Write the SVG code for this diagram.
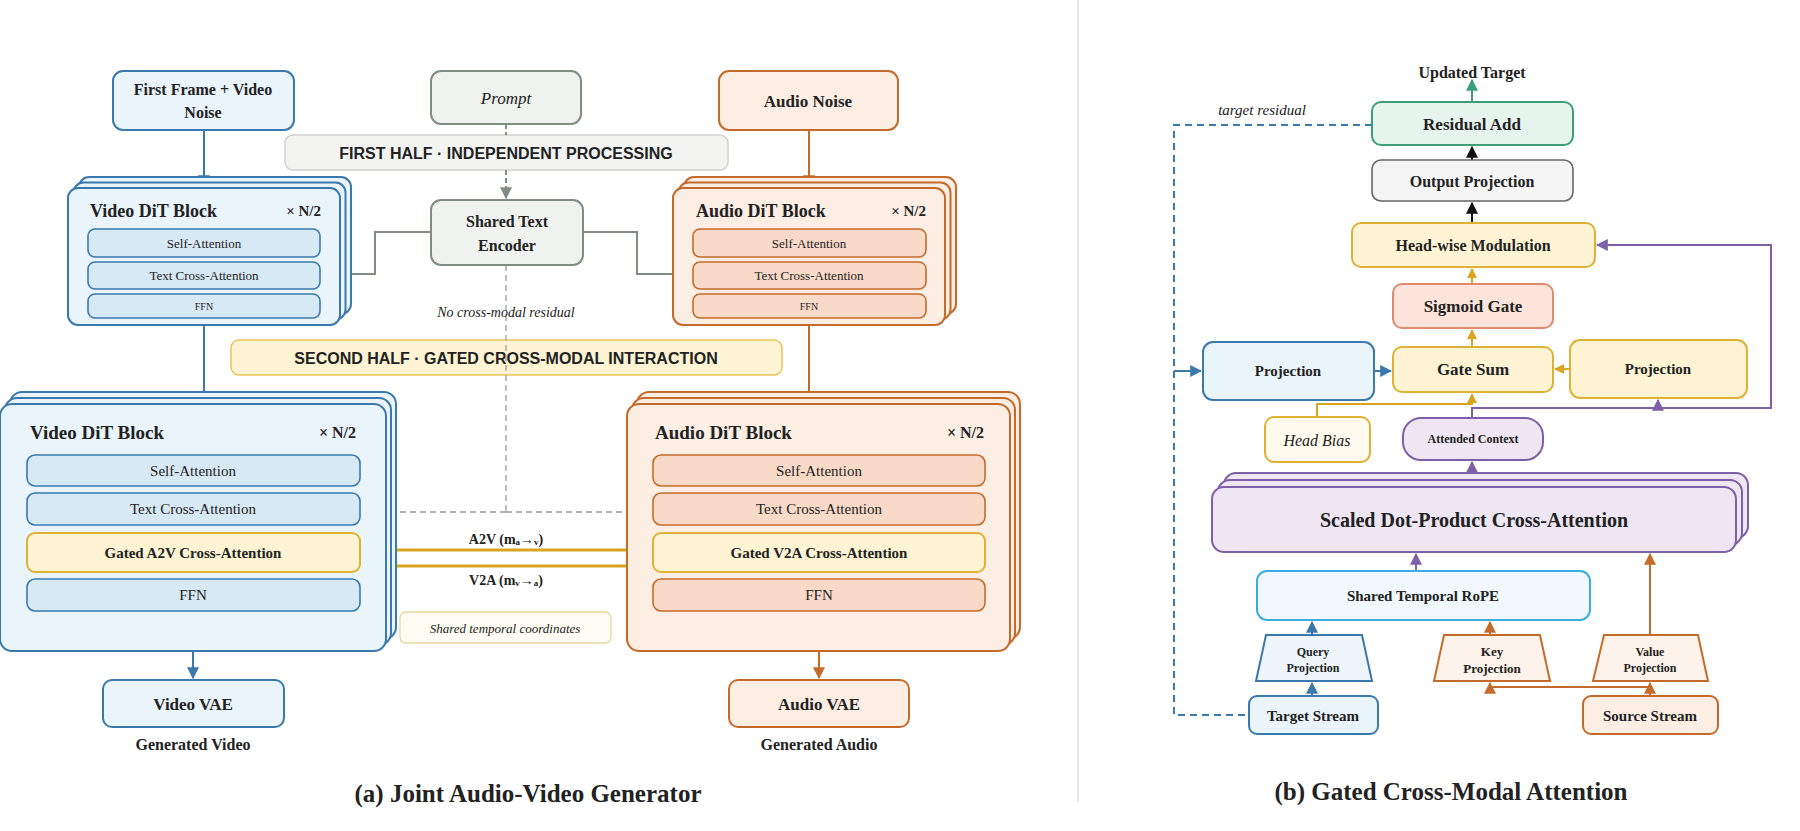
<svg xmlns="http://www.w3.org/2000/svg" width="1800" height="831" viewBox="0 0 1800 831">
<style>
text{font-family:"Liberation Serif","Times New Roman",serif;fill:#222;text-anchor:middle;dominant-baseline:central}
.b{font-weight:bold}
.i{font-style:italic}
.sans{font-family:"Liberation Sans",Arial,sans-serif;font-weight:bold}
.vb{fill:#eaf4fb;stroke:#3b78ae;stroke-width:2}
.vs{fill:#d8e9f6;stroke:#3b78ae;stroke-width:1.6}
.ab{fill:#fdeee4;stroke:#c46b2c;stroke-width:2}
.as{fill:#f9dac8;stroke:#c46b2c;stroke-width:1.6}
.gb{fill:#eff2ee;stroke:#7f8e80;stroke-width:2}
.yb{fill:#fef4d4;stroke:#dfb134;stroke-width:2}
.pb{fill:#efe6f4;stroke:#7d60a8;stroke-width:2}
.none{fill:none}
</style>
<defs>
<marker id="mb" viewBox="0 0 10 10" refX="9" refY="5" markerWidth="6" markerHeight="6" orient="auto-start-reverse"><path d="M0,0L10,5L0,10z" fill="#3b78ae"/></marker>
<marker id="mo" viewBox="0 0 10 10" refX="9" refY="5" markerWidth="6" markerHeight="6" orient="auto-start-reverse"><path d="M0,0L10,5L0,10z" fill="#c46b2c"/></marker>
<marker id="mg" viewBox="0 0 10 10" refX="9" refY="5" markerWidth="6" markerHeight="6" orient="auto-start-reverse"><path d="M0,0L10,5L0,10z" fill="#7f8e80"/></marker>
<marker id="ml" viewBox="0 0 10 10" refX="9" refY="5" markerWidth="6" markerHeight="6" orient="auto-start-reverse"><path d="M0,0L10,5L0,10z" fill="#999"/></marker>
<marker id="my" viewBox="0 0 10 10" refX="9" refY="5" markerWidth="5" markerHeight="5" orient="auto-start-reverse"><path d="M0,0L10,5L0,10z" fill="#d9a520"/></marker>
<marker id="mp" viewBox="0 0 10 10" refX="9" refY="5" markerWidth="6" markerHeight="6" orient="auto-start-reverse"><path d="M0,0L10,5L0,10z" fill="#7d60a8"/></marker>
<marker id="mk" viewBox="0 0 10 10" refX="9" refY="5" markerWidth="6" markerHeight="6" orient="auto-start-reverse"><path d="M0,0L10,5L0,10z" fill="#111"/></marker>
<marker id="mt" viewBox="0 0 10 10" refX="9" refY="5" markerWidth="6" markerHeight="6" orient="auto-start-reverse"><path d="M0,0L10,5L0,10z" fill="#3d9e7a"/></marker>
</defs>

<line x1="1078" y1="0" x2="1078" y2="802" stroke="#ddd" stroke-width="1.5"/>

<g id="bars">
<rect x="285" y="135" width="443" height="35" rx="8" fill="#f3f4f2" stroke="#cfd2cf" stroke-width="1.5"/>
<text x="506" y="153" class="sans" font-size="16" fill="#555">FIRST HALF · INDEPENDENT PROCESSING</text>
<rect x="231" y="340" width="551" height="35" rx="8" fill="#fef4d4" stroke="#e8c55a" stroke-width="1.5"/>
<text x="506" y="358" class="sans" font-size="16" fill="#7a5f10">SECOND HALF · GATED CROSS-MODAL INTERACTION</text>
</g>

<g id="connectors" fill="none" stroke-width="2">
<path d="M204 130V186" stroke="#3b78ae" marker-end="url(#mb)"/>
<path d="M204 325V402" stroke="#3b78ae" marker-end="url(#mb)"/>
<path d="M193 651V678" stroke="#3b78ae" marker-end="url(#mb)"/>
<path d="M809 130V186" stroke="#c46b2c" marker-end="url(#mo)"/>
<path d="M809 325V402" stroke="#c46b2c" marker-end="url(#mo)"/>
<path d="M819 651V678" stroke="#c46b2c" marker-end="url(#mo)"/>
<path d="M506 124V135M506 170V198" stroke="#7f8e80" stroke-dasharray="5 3" marker-end="url(#mg)"/>
<path d="M431 232H375V274H322" stroke="#7f8e80" marker-end="url(#mg)"/>
<path d="M583 232H637V274H695" stroke="#7f8e80" marker-end="url(#mg)"/>
<path d="M506 265V512" stroke="#aaa" stroke-width="1.5" stroke-dasharray="6 4"/>
<path d="M506 512H362M506 512H652" stroke="#999" stroke-width="1.5" stroke-dasharray="6 4" marker-end="url(#ml)"/>
<path d="M627 550H362" stroke="#d9a520" stroke-width="3" marker-end="url(#my)"/>
<path d="M386 566H652" stroke="#d9a520" stroke-width="3" marker-end="url(#my)"/>
<!-- right -->
<path d="M1472 102V80" stroke="#3d9e7a" marker-end="url(#mt)"/>
<path d="M1472 160V147" stroke="#111" marker-end="url(#mk)"/>
<path d="M1472 223V203" stroke="#111" marker-end="url(#mk)"/>
<path d="M1472 284V269" stroke="#d9a520" marker-end="url(#my)"/>
<path d="M1472 347V330" stroke="#d9a520" marker-end="url(#my)"/>
<path d="M1374 371H1391" stroke="#3b78ae" marker-end="url(#mb)"/>
<path d="M1570 369H1555" stroke="#d9a520" marker-end="url(#my)"/>
<path d="M1317 417V404H1472V394" stroke="#d9a520" marker-end="url(#my)"/>
<path d="M1472 418V408H1771V245H1597" stroke="#7d60a8" marker-end="url(#mp)"/>
<path d="M1658 408V400" stroke="#7d60a8" marker-end="url(#mp)"/>
<path d="M1472 487V462" stroke="#7d60a8" marker-end="url(#mp)"/>
<path d="M1416 571V554" stroke="#7d60a8" marker-end="url(#mp)"/>
<path d="M1312 696V683" stroke="#3b78ae" marker-end="url(#mb)"/>
<path d="M1312 635V622" stroke="#3b78ae" marker-end="url(#mb)"/>
<path d="M1490 635V622" stroke="#c46b2c" marker-end="url(#mo)"/>
<path d="M1650 635V554" stroke="#c46b2c" marker-end="url(#mo)"/>
<path d="M1650 696V683" stroke="#c46b2c" marker-end="url(#mo)"/>
<path d="M1650 687H1490V683" stroke="#c46b2c" marker-end="url(#mo)"/>
<path d="M1372 125H1174V715H1247" stroke="#3b78ae" stroke-dasharray="7 5"/>
<path d="M1174 371H1201" stroke="#3b78ae" marker-end="url(#mb)"/>
</g>

<g id="first-frame"><rect x="113" y="71" width="181" height="59" rx="10" class="vb"/>
<text x="203" y="89" class="b" font-size="16">First Frame + Video</text><text x="203" y="112" class="b" font-size="16">Noise</text></g>
<g id="prompt"><rect x="431" y="71" width="150" height="53" rx="10" class="gb"/><text x="506" y="98" class="i" font-size="17">Prompt</text></g>
<g id="audio-noise"><rect x="719" y="71" width="179" height="59" rx="10" class="ab"/><text x="808" y="101" class="b" font-size="17">Audio Noise</text></g>
<g id="text-encoder"><rect x="431" y="200" width="152" height="65" rx="10" class="gb"/>
<text x="507" y="221" class="b" font-size="16">Shared Text</text><text x="507" y="245" class="b" font-size="16">Encoder</text></g>
<text x="506" y="312" class="i" font-size="14" fill="#999">No cross-modal residual</text>

<g id="video-dit-1">
<rect x="79" y="177" width="272" height="137" rx="10" class="vb"/>
<rect x="73.5" y="182.5" width="272" height="137" rx="10" class="vb"/>
<rect x="68" y="188" width="272" height="137" rx="10" class="vb"/>
<text x="90" y="211" class="b" font-size="18" style="text-anchor:start">Video DiT Block</text>
<text x="321" y="211" class="b" font-size="15" style="text-anchor:end">× N/2</text>
<rect x="88" y="229" width="232" height="28" rx="7" class="vs"/><text x="204" y="243" font-size="13">Self-Attention</text>
<rect x="88" y="262" width="232" height="27" rx="7" class="vs"/><text x="204" y="275" font-size="13">Text Cross-Attention</text>
<rect x="88" y="294" width="232" height="24" rx="7" class="vs"/><text x="204" y="306" font-size="10">FFN</text>
</g>
<g id="audio-dit-1">
<rect x="684" y="177" width="272" height="137" rx="10" class="ab"/>
<rect x="678.5" y="182.5" width="272" height="137" rx="10" class="ab"/>
<rect x="673" y="188" width="272" height="137" rx="10" class="ab"/>
<text x="696" y="211" class="b" font-size="18" style="text-anchor:start">Audio DiT Block</text>
<text x="926" y="211" class="b" font-size="15" style="text-anchor:end">× N/2</text>
<rect x="693" y="229" width="233" height="28" rx="7" class="as"/><text x="809" y="243" font-size="13">Self-Attention</text>
<rect x="693" y="262" width="233" height="27" rx="7" class="as"/><text x="809" y="275" font-size="13">Text Cross-Attention</text>
<rect x="693" y="294" width="233" height="24" rx="7" class="as"/><text x="809" y="306" font-size="10">FFN</text>
</g>

<g id="video-dit-2">
<rect x="10" y="392" width="386" height="247" rx="12" class="vb"/>
<rect x="5" y="398" width="386" height="247" rx="12" class="vb"/>
<rect x="0" y="404" width="386" height="247" rx="12" class="vb"/>
<text x="30" y="432" class="b" font-size="19" style="text-anchor:start">Video DiT Block</text>
<text x="356" y="432" class="b" font-size="16" style="text-anchor:end">× N/2</text>
<rect x="27" y="455" width="333" height="31" rx="8" class="vs"/><text x="193" y="471" font-size="15">Self-Attention</text>
<rect x="27" y="493" width="333" height="32" rx="8" class="vs"/><text x="193" y="509" font-size="15">Text Cross-Attention</text>
<rect x="27" y="533" width="333" height="39" rx="8" class="yb"/><text x="193" y="553" class="b" font-size="15">Gated A2V Cross-Attention</text>
<rect x="27" y="579" width="333" height="32" rx="8" class="vs"/><text x="193" y="595" font-size="15">FFN</text>
</g>
<g id="audio-dit-2">
<rect x="637" y="392" width="383" height="247" rx="12" class="ab"/>
<rect x="632" y="398" width="383" height="247" rx="12" class="ab"/>
<rect x="627" y="404" width="383" height="247" rx="12" class="ab"/>
<text x="655" y="432" class="b" font-size="19" style="text-anchor:start">Audio DiT Block</text>
<text x="984" y="432" class="b" font-size="16" style="text-anchor:end">× N/2</text>
<rect x="653" y="455" width="332" height="31" rx="8" class="as"/><text x="819" y="471" font-size="15">Self-Attention</text>
<rect x="653" y="493" width="332" height="32" rx="8" class="as"/><text x="819" y="509" font-size="15">Text Cross-Attention</text>
<rect x="653" y="533" width="332" height="39" rx="8" class="yb"/><text x="819" y="553" class="b" font-size="15">Gated V2A Cross-Attention</text>
<rect x="653" y="579" width="332" height="32" rx="8" class="as"/><text x="819" y="595" font-size="15">FFN</text>
</g>
<text x="506" y="539" class="b" font-size="14" fill="#7a5f10">A2V  (m<tspan font-size="9" dy="3">a</tspan><tspan dy="-3">→</tspan><tspan font-size="9" dy="3">v</tspan><tspan dy="-3">)</tspan></text>
<text x="506" y="580" class="b" font-size="14" fill="#7a5f10">V2A  (m<tspan font-size="9" dy="3">v</tspan><tspan dy="-3">→</tspan><tspan font-size="9" dy="3">a</tspan><tspan dy="-3">)</tspan></text>
<g id="shared-coords"><rect x="400" y="612" width="211" height="31" rx="6" fill="#fffdf3" stroke="#e6d8a0" stroke-width="1.3"/><text x="505" y="628" class="i" font-size="13">Shared temporal coordinates</text></g>

<g id="video-vae"><rect x="103" y="680" width="181" height="47" rx="9" class="vb"/><text x="193" y="704" class="b" font-size="17">Video VAE</text></g>
<text x="193" y="744" class="b" font-size="16" fill="#3b78ae">Generated Video</text>
<g id="audio-vae"><rect x="729" y="680" width="180" height="47" rx="9" class="ab"/><text x="819" y="704" class="b" font-size="17">Audio VAE</text></g>
<text x="819" y="744" class="b" font-size="16" fill="#c46b2c">Generated Audio</text>
<text x="528" y="793" class="b" font-size="25">(a) Joint Audio-Video Generator</text>

<!-- panel b -->
<text x="1472" y="72" class="b" font-size="16" fill="#3d9e7a">Updated Target</text>
<text x="1262" y="110" class="i" font-size="15" fill="#3b78ae">target residual</text>
<g id="residual-add"><rect x="1372" y="102" width="201" height="43" rx="9" fill="#e6f4ee" stroke="#3d9e7a" stroke-width="2"/><text x="1472" y="124" class="b" font-size="17">Residual Add</text></g>
<g id="output-proj"><rect x="1372" y="160" width="201" height="41" rx="9" fill="#f5f5f5" stroke="#666" stroke-width="1.6"/><text x="1472" y="181" class="b" font-size="16">Output Projection</text></g>
<g id="headwise"><rect x="1352" y="223" width="243" height="44" rx="9" class="yb"/><text x="1473" y="245" class="b" font-size="16">Head-wise Modulation</text></g>
<g id="sigmoid"><rect x="1393" y="284" width="160" height="44" rx="9" fill="#fde4da" stroke="#e08b70" stroke-width="2"/><text x="1473" y="306" class="b" font-size="17">Sigmoid Gate</text></g>
<g id="gate-sum"><rect x="1393" y="347" width="160" height="45" rx="9" class="yb"/><text x="1473" y="369" class="b" font-size="17">Gate Sum</text></g>
<g id="proj-blue"><rect x="1203" y="342" width="171" height="58" rx="10" class="vb"/><text x="1288" y="371" class="b" font-size="15">Projection</text></g>
<g id="proj-yellow"><rect x="1570" y="340" width="177" height="58" rx="10" class="yb"/><text x="1658" y="369" class="b" font-size="15">Projection</text></g>
<g id="head-bias"><rect x="1265" y="417" width="105" height="45" rx="9" fill="#fffbee" stroke="#dfb134" stroke-width="2"/><text x="1317" y="440" class="i" font-size="16">Head Bias</text></g>
<g id="attended"><rect x="1403" y="418" width="140" height="42" rx="18" class="pb"/><text x="1473" y="439" class="b" font-size="12">Attended Context</text></g>
<g id="sdpa">
<rect x="1224" y="473" width="524" height="65" rx="12" class="pb"/>
<rect x="1218" y="480" width="524" height="65" rx="12" class="pb"/>
<rect x="1212" y="487" width="524" height="65" rx="12" class="pb"/>
<text x="1474" y="520" class="b" font-size="20">Scaled Dot-Product Cross-Attention</text></g>
<g id="rope"><rect x="1257" y="571" width="333" height="49" rx="10" fill="#f0f8fd" stroke="#3aaee0" stroke-width="2"/><text x="1423" y="596" class="b" font-size="15">Shared Temporal RoPE</text></g>
<g id="query-proj"><path d="M1266 635H1362L1372 681H1256Z" fill="#eef6fc" stroke="#3b78ae" stroke-width="2"/><text x="1313" y="652" class="b" font-size="12">Query</text><text x="1313" y="668" class="b" font-size="12">Projection</text></g>
<g id="key-proj"><path d="M1444 635H1540L1550 681H1434Z" fill="#fef3ea" stroke="#c46b2c" stroke-width="2"/><text x="1492" y="651" class="b" font-size="13">Key</text><text x="1492" y="668" class="b" font-size="13">Projection</text></g>
<g id="value-proj"><path d="M1604 635H1698L1708 681H1593Z" fill="#fef3ea" stroke="#c46b2c" stroke-width="2"/><text x="1650" y="652" class="b" font-size="12">Value</text><text x="1650" y="668" class="b" font-size="12">Projection</text></g>
<g id="target-stream"><rect x="1249" y="696" width="129" height="38" rx="8" class="vb"/><text x="1313" y="716" class="b" font-size="15">Target Stream</text></g>
<g id="source-stream"><rect x="1583" y="696" width="135" height="38" rx="8" class="ab"/><text x="1650" y="716" class="b" font-size="15">Source Stream</text></g>
<text x="1451" y="791" class="b" font-size="25">(b) Gated Cross-Modal Attention</text>
</svg>
